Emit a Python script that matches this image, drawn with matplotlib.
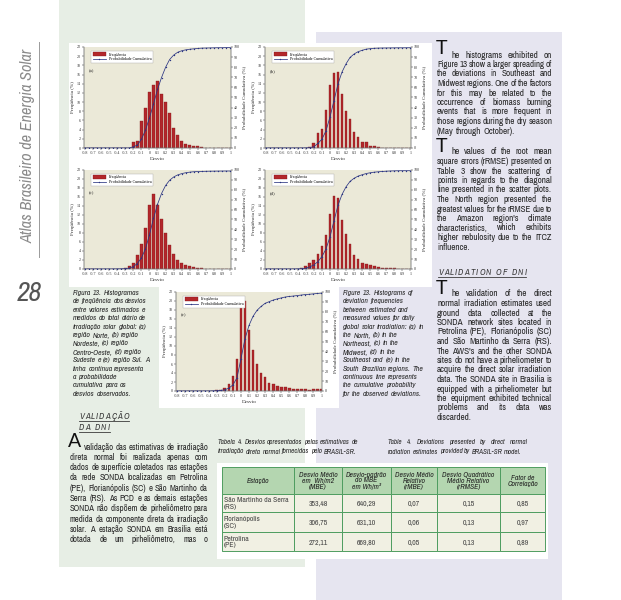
import matplotlib
matplotlib.use("Agg")
import matplotlib.pyplot as plt
from matplotlib import font_manager
from matplotlib.patches import Rectangle

W, H = 621, 600

# ---- chart data ----
DESVIO = [-0.8, -0.75, -0.7, -0.65, -0.6, -0.55, -0.5, -0.45, -0.4, -0.35,
          -0.3, -0.25, -0.2, -0.15, -0.1, -0.05, 0.0, 0.05, 0.1, 0.15,
          0.2, 0.25, 0.3, 0.35, 0.4, 0.45, 0.5, 0.55, 0.6, 0.65,
          0.7, 0.75, 0.8, 0.85, 0.9, 0.95, 1.0]

X_TICKS = [-0.8, -0.7, -0.6, -0.5, -0.4, -0.3, -0.2, -0.1, 0.0, 0.1,
           0.2, 0.3, 0.4, 0.5, 0.6, 0.7, 0.8, 0.9, 1.0]
X_TICK_LABELS = ["-0.8", "-0.7", "-0.6", "-0.5", "-0.4", "-0.3", "-0.2", "-0.1", "0", "0.1",
                 "0.2", "0.3", "0.4", "0.5", "0.6", "0.7", "0.8", "0.9", "1"]
FREQ_TICKS = [0, 2, 4, 6, 8, 10, 12, 14, 16, 18, 20, 22]
CUM_TICKS = [0, 10, 20, 30, 40, 50, 60, 70, 80, 90, 100]

# (a) Norte
FREQ_A = [0, 0, 0, 0, 0, 0, 0, 0, 0, 0,
          0, 0, 1.2, 1.6, 5.8, 8.8, 12.3, 13.8, 14.5, 11.8,
          10.1, 7.7, 4.4, 2.8, 1.5, 0.9, 0.6, 0.4, 0.35, 0.3,
          0.1, 0.1, 0.05, 0.05, 0, 0, 0]
CUM_A = [0, 0, 0, 0, 0, 0, 0, 0, 0, 0,
         0, 0, 1.2, 2.8, 8.6, 17.4, 29.7, 43.5, 58.0, 69.8,
         79.9, 87.6, 92.0, 94.8, 96.3, 97.2, 97.8, 98.2, 98.6, 98.9,
         99.0, 99.1, 99.2, 99.3, 99.3, 99.4, 99.4]
# (b) Nordeste
FREQ_B = [0, 0, 0, 0, 0, 0, 0, 0, 0, 0,
          0.05, 0.3, 1.0, 3.2, 4.2, 8.2, 13.7, 16.3, 16.5, 11.8,
          8.1, 6.3, 3.4, 2.3, 1.3, 1.2, 0.5, 0.4, 0.15, 0.1,
          0.05, 0, 0, 0, 0, 0, 0]
CUM_B = [0, 0, 0, 0, 0, 0, 0, 0, 0, 0,
         0.05, 0.35, 1.35, 4.55, 8.75, 16.95, 30.65, 46.95, 63.45, 75.25,
         83.35, 89.65, 93.05, 95.35, 96.65, 97.85, 98.35, 98.75, 98.9, 99.0,
         99.05, 99.1, 99.15, 99.2, 99.2, 99.25, 99.3]
# (c) Centro-Oeste
FREQ_C = [0, 0, 0, 0, 0, 0, 0, 0, 0.05, 0.1,
          0.2, 0.6, 1.4, 3.2, 5.5, 9.1, 14.2, 16.7, 14.2, 11.0,
          8.1, 5.3, 3.3, 2.1, 1.3, 0.9, 0.6, 0.4, 0.2, 0.15,
          0.1, 0.1, 0.05, 0.05, 0, 0, 0]
CUM_C = [0, 0, 0, 0, 0, 0, 0, 0, 0.05, 0.15,
         0.35, 0.95, 2.35, 5.55, 11.05, 20.15, 34.35, 51.05, 65.25, 76.25,
         84.35, 89.65, 92.95, 95.05, 96.35, 97.25, 97.85, 98.25, 98.45, 98.6,
         98.7, 98.8, 98.85, 98.9, 98.95, 99.0, 99.0]
# (d) Sudeste
FREQ_D = [0, 0, 0, 0, 0, 0, 0, 0, 0.1, 0.2,
          0.6, 1.3, 2.0, 3.3, 5.1, 7.6, 12.2, 16.3, 15.7, 10.9,
          7.7, 5.5, 3.1, 2.2, 1.4, 1.2, 0.8, 0.6, 0.4, 0.3,
          0.3, 0.2, 0.15, 0.1, 0.05, 0, 0]
CUM_D = [0, 0, 0, 0, 0, 0, 0, 0, 0.1, 0.3,
         0.9, 2.2, 4.2, 7.5, 12.6, 20.2, 32.4, 48.7, 64.4, 75.3,
         83.0, 88.5, 91.6, 93.8, 95.2, 96.4, 97.2, 97.8, 98.2, 98.5,
         98.8, 99.0, 99.15, 99.25, 99.3, 99.3, 99.3]
# (e) Sul
FREQ_E = [0, 0, 0, 0, 0, 0, 0, 0, 0, 0.1,
          0.2, 0.3, 0.7, 1.6, 3.3, 7.1, 19.3, 20.1, 13.6, 9.1,
          6.1, 3.9, 3.1, 1.7, 1.6, 1.2, 1.0, 0.9, 0.6, 0.4,
          0.5, 0.5, 0.5, 0.3, 0.4, 0.4, 0.4]
CUM_E = [0, 0, 0, 0, 0, 0, 0, 0, 0, 0.1,
         0.3, 0.6, 1.3, 2.9, 6.2, 13.3, 32.6, 52.7, 66.3, 75.4,
         81.5, 85.4, 88.5, 90.2, 91.8, 93.0, 94.0, 94.9, 95.5, 95.9,
         96.4, 96.9, 97.4, 97.7, 98.1, 98.5, 98.9]

# ---- table 4 ----
TABLE_HEADER = ["Estação", "Desvio Médio\nem  Wh/m2\n(MBE)", "Desvio-padrão\ndo MBE\nem Wh/m²",
                "Desvio Médio\nRelativo\n(rMBE)", "Desvio Quadrático\nMédio Relativo\n(rRMSE)",
                "Fator de\nCorrelação"]
ESTACOES = ["São Martinho da Serra\n(RS)", "Florianópolis\n(SC)", "Petrolina\n(PE)"]
MBE = ["353,48", "306,75", "272,11"]
DP_MBE = ["640,29", "631,10", "669,80"]
RMBE = ["0,07", "0,06", "0,05"]
RRMSE = ["0,15", "0,13", "0,13"]
CORREL = ["0,85", "0,97", "0,89"]

# ---- page text ----
EN_P1 = ["he histograms exhibited on",
         "Figure 13 show a larger spreading of",
         "the deviations in Southeast and",
         "Midwest regions. One of the factors",
         "for this may be related to the",
         "occurrence of biomass burning",
         "events that is more frequent in",
         "those regions during the dry season",
         "(May through October)."]
EN_P2 = ["he values of the root mean",
         "square errors (rRMSE) presented on",
         "Table 3 show the scattering of",
         "points in regards to the diagonal",
         "line presented in the scatter plots.",
         "The North region presented the",
         "greatest values for the rRMSE due to",
         "the Amazon region's climate",
         "characteristics, which exhibits",
         "higher nebulosity due to the ITCZ",
         "influence."]
EN_P3 = ["he validation of the direct",
         "normal irradiation estimates used",
         "ground data collected at the",
         "SONDA network sites located in",
         "Petrolina (PE), Florianópolis (SC)",
         "and São Martinho da Serra (RS).",
         "The AWS's and the other SONDA",
         "sites do not have a pirheliometer to",
         "acquire the direct solar irradiation",
         "data. The SONDA site in Brasilia is",
         "equipped with a pirheliometer but",
         "the equipment exhibited technical",
         "problems and its data was",
         "discarded."]
PT_P = ["validação das estimativas de irradiação",
        "direta normal foi realizada apenas com",
        "dados de superfície coletados nas estações",
        "da rede SONDA localizadas em Petrolina",
        "(PE), Florianópolis (SC) e São Martinho da",
        "Serra (RS). As PCD e as demais estações",
        "SONDA não dispõem de pirheliômetro para",
        "medida da componente direta da irradiação",
        "solar. A estação SONDA em Brasília está",
        "dotada de um pirheliômetro, mas o"]
CAP_PT = ["*Figura *13. Histogramas",
          "de freqüência dos desvios",
          "entre valores estimados e",
          "medidos do total diário de",
          "irradiação solar global: (a)",
          "região Norte, (b) região",
          "Nordeste, (c) região",
          "Centro-Oeste, (d) região",
          "Sudeste e (e) região Sul. A",
          "linha contínua representa",
          "a probabilidade",
          "cumulativa para os",
          "desvios observados."]
CAP_EN = ["*Figure *13. Histograms of",
          "deviation frequencies",
          "between estimated and",
          "measured values for daily",
          "global solar irradiation: (a) in",
          "the North, (b) in the",
          "Northeast, (c) in the",
          "Midwest, (d) in the",
          "Southeast and (e) in the",
          "South Brazilian regions. The",
          "continuous line represents",
          "the cumulative probability",
          "for the observed deviations."]
TAB_PT = ["*Tabela *4. Desvios apresentados pelas estimativas de",
          "irradiação direta normal fornecidas pelo BRASIL-SR."]
TAB_EN = ["*Table *4. Deviations presented by direct normal",
          "radiation estimates provided by BRASIL-SR model."]

# ---- colours ----
GREEN_PANEL = "#e7eee5"
LAVENDER = "#e6e5f0"
PLOT_BG = "#ebe9d8"
BAR_RED = "#b3272b"
BAR_EDGE = "#7d1518"
LINE_BLUE = "#2b3582"
INK = "#262626"
GREY_TITLE = "#8a8a8a"
TABLE_HEAD = "#b4d6b0"
TABLE_BODY = "#f1f0e3"
TABLE_EDGE = "#4f9d60"

fonts = font_manager.fontManager.ttflist
names = {f.name for f in fonts}


def pick(*cands):
    for n in cands:
        if n in names:
            return n
    return "DejaVu Sans"


def narrow_font():
    # the page uses a condensed humanist face; take the narrowest one installed
    for f in fonts:
        if "Narrow" in f.name or "Condensed" in f.name:
            return f.name, "normal"
    for f in fonts:
        if str(f.stretch) in ("condensed", "semi-condensed") and "Mono" not in f.name:
            return f.name, str(f.stretch)
    return pick("Lato", "Roboto"), "normal"


BODY, STRETCH = narrow_font()
DROP = pick("Lato", "Open Sans")
SERIF = pick("Liberation Serif", "DejaVu Serif")
plt.rcParams["font.family"] = SERIF

fig = plt.figure(figsize=(W / 100, H / 100), dpi=100)
bg = fig.add_axes([0, 0, 1, 1])
bg.set_xlim(0, W)
bg.set_ylim(H, 0)
bg.axis("off")
renderer = fig.canvas.get_renderer()


def rect(x0, y0, x1, y1, **kw):
    bg.add_patch(Rectangle((x0, y0), x1 - x0, y1 - y0, **kw))


def body_text(x, y, s, size, **kw):
    kw.setdefault("family", BODY)
    kw.setdefault("fontstretch", STRETCH)
    return bg.text(x, y, s, fontsize=size, **kw)


def text_width(s, size, **kw):
    t = body_text(0, 0, s, size, **kw)
    w = t.get_window_extent(renderer=renderer).width
    t.remove()
    return w


def block_size(lines, width, cap, keep=0.7, **kw):
    # size at which most of the lines fit at natural spacing
    fits = sorted(10 * width / text_width(l.replace("*", ""), 10, **kw) for l in lines)
    return min(cap, fits[int(len(fits) * (1 - keep))])


def put_line(x0, x1, y, line, size, justify, style="normal", color=INK):
    objs = []
    for tok in line.split(" "):
        weight = "normal"
        if tok.startswith("*"):
            tok, weight = tok[1:], "bold"
        objs.append(body_text(x0, y, tok, size, style=style, weight=weight,
                              color=color, va="baseline", ha="left"))
    widths = [t.get_window_extent(renderer=renderer).width for t in objs]
    space = text_width("a a", size, style=style) - text_width("aa", size, style=style)
    need = sum(widths) + (len(objs) - 1) * space * 0.6
    if need > x1 - x0:
        k = (x1 - x0) / need
        size, space = size * k, space * k
        for t in objs:
            t.set_fontsize(size)
        widths = [t.get_window_extent(renderer=renderer).width for t in objs]
    gap = space
    if justify and len(objs) > 1:
        gap = max((x1 - x0 - sum(widths)) / (len(objs) - 1), space * 0.6)
    x = x0
    for t, w in zip(objs, widths):
        t.set_x(x)
        x += w + gap


def paragraph(lines, x0, x1, y0, step, size, justify=True, justify_last=False,
              indent=0.0, style="normal", color=INK):
    for i, line in enumerate(lines):
        last = i == len(lines) - 1
        put_line(x0 + (indent if i == 0 else 0), x1, y0 + i * step, line, size,
                 justify and (justify_last or not last), style=style, color=color)


def drop_cap(letter, x, y, size):
    # raised initial: sits a little above the first baseline so it clears line two
    t = bg.text(x, y, letter, fontsize=size, family=DROP, color="#111",
                va="baseline", ha="left")
    return t.get_window_extent(renderer=renderer).width + 3.0


def tracked_heading(s, x, y, size, track):
    x0 = x
    for ch in s:
        if ch == " ":
            x += size * 0.55
            continue
        t = body_text(x, y, ch, size, style="italic", color="#3a3a3a",
                      va="baseline", ha="left")
        x += t.get_window_extent(renderer=renderer).width + track
    bg.plot([x0, x - track], [y + 2.2, y + 2.2], color="#3a3a3a", lw=0.6)


# ---- page background ----
rect(59, 0, 305, 567, facecolor=GREEN_PANEL, edgecolor="none")
rect(316, 32, 562, 600, facecolor=LAVENDER, edgecolor="none")
rect(69, 43, 432, 287, facecolor="white", edgecolor="none")
rect(159, 286, 339, 408, facecolor="white", edgecolor="none")
rect(217, 463, 548, 559, facecolor="white", edgecolor="none")

# running title and page number
title = "Atlas Brasileiro de Energia Solar"
title_size = 10 * 195 / text_width(title, 10, style="italic")
body_text(28, 146, title, title_size, rotation=90, style="italic",
          color=GREY_TITLE, ha="center", va="center")
bg.plot([38.5, 38.5], [42, 257], color="#9a9a9a", lw=0.7)
body_text(17, 301, "28", 20, style="italic", color="#555555", va="baseline", ha="left")

# ---- body text ----
right_lines = EN_P1[1:-1] + EN_P2[1:-1] + EN_P3[1:-1]
en_pt = block_size(right_lines, 115, 6.6)
pt_pt = block_size(PT_P[1:], 138, 6.8)
cap_pt = min(block_size(CAP_PT[1:], 75, 6.4, keep=0.9, style="italic"),
             block_size(CAP_EN[1:], 83, 6.4, keep=0.9, style="italic"))
tab_pt = min(block_size(TAB_PT[:1], 140, 7.0, keep=1.0, style="italic"),
             block_size(TAB_EN[:1], 140, 7.0, keep=1.0, style="italic"))

ind = drop_cap("T", 436, 54.5, 14)
paragraph(EN_P1, 437, 552, 57.5, 9.5, en_pt, indent=ind)
ind = drop_cap("T", 436, 151.5, 14)
paragraph(EN_P2, 437, 552, 154.5, 9.5, en_pt, indent=ind)
tracked_heading("VALIDATION OF DNI", 438, 275, 6.4, 1.1)
ind = drop_cap("T", 436, 293.5, 14)
paragraph(EN_P3, 437, 552, 296.5, 9.5, en_pt, indent=ind)

tracked_heading("VALIDAÇÃO", 79, 419, 6.4, 1.1)
tracked_heading("DA DNI", 79, 430, 6.4, 1.1)
ind = drop_cap("A", 68, 447, 14)
paragraph(PT_P, 70, 208, 449.5, 10.3, pt_pt, indent=ind - 2, justify_last=True)

# figure captions
paragraph(CAP_PT, 73, 148, 295, 8.4, cap_pt, justify=False, style="italic")
paragraph(CAP_EN, 343, 426, 295, 8.4, cap_pt, justify=False, style="italic")

# table captions
paragraph(TAB_PT, 218, 358, 444, 9.5, tab_pt, style="italic")
paragraph(TAB_EN, 388, 528, 444, 9.5, tab_pt, style="italic")

# ---- table 4 ----
col_edges = [222, 294, 342, 391, 437, 500, 545]
row_edges = [467, 494, 512, 532, 551]
columns = [ESTACOES, MBE, DP_MBE, RMBE, RRMSE, CORREL]
for c in range(len(columns)):
    xa, xb = col_edges[c], col_edges[c + 1]
    rect(xa, row_edges[0], xb, row_edges[1], facecolor=TABLE_HEAD, edgecolor=TABLE_EDGE, lw=0.7)
    body_text((xa + xb) / 2, (row_edges[0] + row_edges[1]) / 2 + 0.5, TABLE_HEADER[c], 5.5,
              style="italic", weight="bold", color="#222", ha="center", va="center",
              linespacing=1.0)
    for r, value in enumerate(columns[c]):
        ya, yb = row_edges[r + 1], row_edges[r + 2]
        rect(xa, ya, xb, yb, facecolor=TABLE_BODY, edgecolor=TABLE_EDGE, lw=0.7)
        if c == 0:
            body_text(xa + 2, (ya + yb) / 2 + 0.5, value, 5.6, color="#444",
                      ha="left", va="center", linespacing=1.05)
        else:
            body_text((xa + xb) / 2, (ya + yb) / 2 + 0.5, value, 5.6, color="#444",
                      ha="center", va="center")


# ---- histograms ----
def histogram_panel(box, freq, cum, tag):
    left, top, right, bottom = box
    ax = fig.add_axes([left / W, 1 - bottom / H, (right - left) / W, (bottom - top) / H])
    ax.set_facecolor(PLOT_BG)
    bars = ax.bar(DESVIO, freq, width=0.036, color=BAR_RED, edgecolor=BAR_EDGE,
                  linewidth=0.25, zorder=2)
    ax.set_xlim(-0.81, 1.01)
    ax.set_ylim(0, 22)
    ax.set_xticks(X_TICKS)
    ax.set_xticklabels(X_TICK_LABELS)
    ax.set_yticks(FREQ_TICKS)
    ax.set_xlabel("Desvio", fontsize=3.7, labelpad=1.2, color=INK)
    ax.set_ylabel("Freqüência (%)", fontsize=3.7, labelpad=1.5, color=INK)
    ax.text(-0.75, 16.6, tag, fontsize=3.5, color=INK)

    ax2 = ax.twinx()
    line, = ax2.plot(DESVIO, cum, color=LINE_BLUE, lw=0.55, marker="o", ms=1.0,
                     mew=0, zorder=3)
    ax2.set_ylim(0, 100)
    ax2.set_yticks(CUM_TICKS)
    ax2.set_ylabel("Probabilidade Cumulativa (%)", fontsize=3.7, labelpad=1.5, color=INK)

    for a in (ax, ax2):
        a.tick_params(labelsize=3.0, length=1.4, width=0.35, pad=0.8, colors="#333")
        for sp in a.spines.values():
            sp.set_linewidth(0.35)
            sp.set_color("#777777")
        a.spines["top"].set_visible(False)

    leg = ax2.legend([bars, line], ["Freqüência", "Probabilidade Cumulativa"],
                     loc="upper left", bbox_to_anchor=(0.05, 0.96), fontsize=3.0,
                     frameon=True, fancybox=False, framealpha=1, edgecolor="#aaaaaa",
                     borderpad=0.35, handlelength=3.2, handleheight=0.8,
                     labelspacing=0.15, handletextpad=0.6, borderaxespad=0)
    leg.get_frame().set_linewidth(0.3)


histogram_panel((84, 47, 231, 148), FREQ_A, CUM_A, "(a)")
histogram_panel((265, 47, 411, 148), FREQ_B, CUM_B, "(b)")
histogram_panel((84, 170, 231, 269), FREQ_C, CUM_C, "(c)")
histogram_panel((265, 170, 411, 269), FREQ_D, CUM_D, "(d)")
histogram_panel((176, 292, 322, 391), FREQ_E, CUM_E, "(e)")

fig.savefig("out.png", dpi=100)
